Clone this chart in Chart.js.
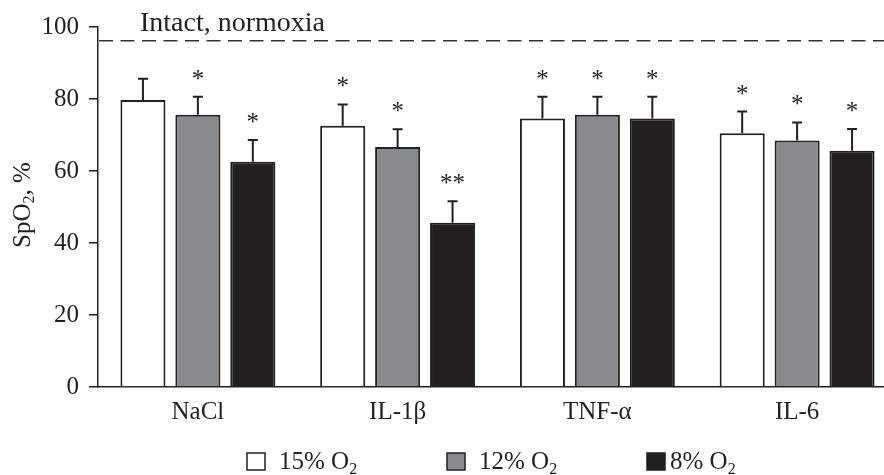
<!DOCTYPE html>
<html>
<head>
<meta charset="utf-8">
<script src="https://cdn.jsdelivr.net/npm/chart.js@4.4.1/dist/chart.umd.min.js"></script>
<style>
  html, body { margin: 0; padding: 0; background: #fff; overflow: hidden; }
  #wrap { width: 884px; height: 475px; overflow: hidden; }
</style>
</head>
<body>
<div id="wrap"><canvas id="chart" width="910" height="475"></canvas></div>
<script>
const categories = ['NaCl', 'IL-1β', 'TNF-α', 'IL-6'];
const seriesLabels = ['15%', '12%', '8%'];
const o2_15 = [79.7, 72.6, 74.6, 70.5];
const o2_12 = [75.6, 66.7, 75.6, 68.5];
const o2_8 = [62.6, 45.6, 74.6, 65.6];
const err_15 = [5.9, 5.9, 6.0, 6.0];
const err_12 = [5.0, 4.9, 5.0, 5.0];
const err_8 = [6.0, 6.0, 6.0, 6.1];
const sig_15 = ['', '*', '*', '*'];
const sig_12 = ['*', '*', '*', '*'];
const sig_8 = ['*', '**', '*', '*'];
const intactLevel = 96.2;
const yTicks = [0, 20, 40, 60, 80, 100];

const INK = '#231f20';
const GRAY = '#898a8d';
const FONT = '"Liberation Serif", "Times New Roman", serif';

const errors = [err_15, err_12, err_8];
const marks = [sig_15, sig_12, sig_8];

const extras = {
  id: 'extras',
  afterDatasetsDraw(chart) {
    const ctx = chart.ctx;
    const y = chart.scales.y;
    const area = chart.chartArea;
    ctx.save();

    // error bars and significance marks
    chart.data.datasets.forEach((ds, i) => {
      const meta = chart.getDatasetMeta(i);
      meta.data.forEach((bar, j) => {
        const top = y.getPixelForValue(ds.data[j] + errors[i][j]);
        ctx.strokeStyle = INK;
        ctx.lineWidth = 2;
        ctx.beginPath();
        ctx.moveTo(bar.x, bar.y);
        ctx.lineTo(bar.x, top);
        ctx.moveTo(bar.x - 5, top);
        ctx.lineTo(bar.x + 5, top);
        ctx.stroke();
        if (marks[i][j]) {
          ctx.fillStyle = INK;
          ctx.font = '25px ' + FONT;
          ctx.textAlign = 'center';
          ctx.textBaseline = 'alphabetic';
          ctx.fillText(marks[i][j], bar.x, top - 10);
        }
      });
    });

    // intact normoxia reference line
    const yl = y.getPixelForValue(intactLevel);
    ctx.setLineDash([14, 7.5]);
    ctx.lineWidth = 1.5;
    ctx.strokeStyle = '#333';
    ctx.beginPath();
    ctx.moveTo(area.left + 1, yl);
    ctx.lineTo(area.right, yl);
    ctx.stroke();
    ctx.setLineDash([]);
    ctx.fillStyle = INK;
    ctx.font = '28px ' + FONT;
    ctx.textAlign = 'left';
    ctx.fillText('Intact, normoxia', 140, 31);

    // y axis title with subscript
    ctx.translate(23, 205);
    ctx.rotate(-Math.PI / 2);
    const big = '25px ' + FONT, small = '16px ' + FONT;
    ctx.font = big; const w1 = ctx.measureText('SpO').width;
    ctx.font = small; const w2 = ctx.measureText('2').width;
    ctx.font = big; const w3 = ctx.measureText(', %').width;
    let x0 = -(w1 + w2 + w3) / 2;
    ctx.textBaseline = 'middle';
    ctx.font = big; ctx.fillText('SpO', x0, 0);
    ctx.font = small; ctx.fillText('2', x0 + w1, 7);
    ctx.font = big; ctx.fillText(', %', x0 + w1 + w2, 0);
    ctx.setTransform(1, 0, 0, 1, 0, 0);

    // legend
    const boxX = [247, 447, 647];
    const textX = [279, 479, 670];
    chart.data.datasets.forEach((ds, i) => {
      ctx.fillStyle = ds.backgroundColor;
      ctx.fillRect(boxX[i], 453, 18, 17);
      ctx.strokeStyle = INK;
      ctx.lineWidth = 1.5;
      ctx.strokeRect(boxX[i], 453, 18, 17);
      ctx.fillStyle = INK;
      ctx.textBaseline = 'alphabetic';
      ctx.font = big;
      const t = seriesLabels[i] + ' O';
      ctx.fillText(t, textX[i], 469);
      const tw = ctx.measureText(t).width;
      ctx.font = small;
      ctx.fillText('2', textX[i] + tw, 474);
    });
    ctx.restore();
  }
};

new Chart(document.getElementById('chart'), {
  type: 'bar',
  data: {
    labels: categories,
    datasets: [
      { label: '15% O2', data: o2_15, backgroundColor: '#ffffff' },
      { label: '12% O2', data: o2_12, backgroundColor: GRAY },
      { label: '8% O2', data: o2_8, backgroundColor: INK }
    ].map(d => Object.assign(d, { borderColor: INK, borderWidth: 2 }))
  },
  options: {
    responsive: false,
    animation: false,
    categoryPercentage: 0.825,
    barPercentage: 0.82,
    layout: { padding: { left: 0, top: 27, right: 13, bottom: 0 } },
    plugins: { legend: { display: false }, tooltip: { enabled: false } },
    scales: {
      x: {
        afterFit(scale) { scale.height = 88; },
        grid: { display: true, drawOnChartArea: false, drawTicks: false },
        border: { display: true, color: INK, width: 1.5 },
        ticks: { color: INK, font: { family: FONT, size: 25 }, padding: 10 }
      },
      y: {
        min: 0, max: 100,
        afterFit(scale) { scale.width = 98; },
        afterBuildTicks(scale) { scale.ticks = yTicks.map(v => ({ value: v })); },
        grid: { drawOnChartArea: false, drawTicks: true, tickLength: 9, color: INK, lineWidth: 1.5 },
        border: { display: true, color: INK, width: 1.5 },
        ticks: { color: INK, font: { family: FONT, size: 25 }, padding: 10 }
      }
    }
  },
  plugins: [extras]
});
</script>
</body>
</html>
